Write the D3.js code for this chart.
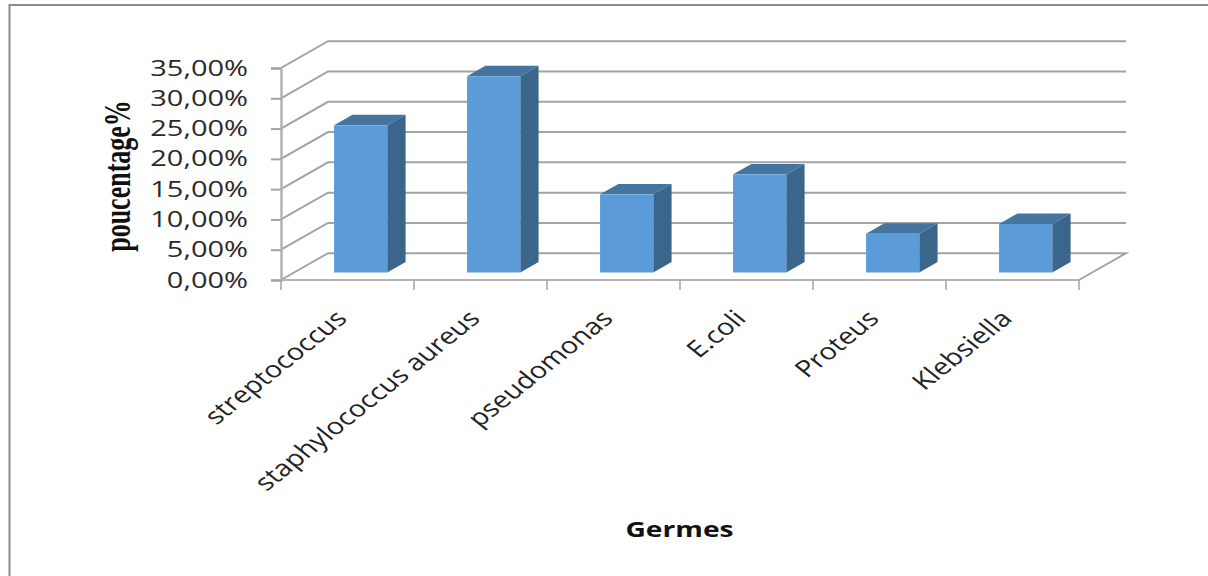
<!DOCTYPE html>
<html>
<head>
<meta charset="utf-8">
<title>Germes</title>
<script src="https://cdn.jsdelivr.net/npm/d3@7/dist/d3.min.js"></script>
<style>
  html, body { margin: 0; padding: 0; background: #fff; }
  svg { display: block; }
</style>
</head>
<body>
<svg id="chart" width="1208" height="576"></svg>
<script>
// Share of each germ, in percent
const categories = ["streptococcus", "staphylococcus aureus", "pseudomonas", "E.coli", "Proteus", "Klebsiella"];
const percentages = [24.3, 32.4, 12.9, 16.2, 6.4, 8.0];
const yTicks = [0, 5, 10, 15, 20, 25, 30, 35];
const yTickLabels = ["0,00%", "5,00%", "10,00%", "15,00%", "20,00%", "25,00%", "30,00%", "35,00%"];

const width = 1208, height = 576;
const plotLeft = 281, plotRight = 1079, floorY = 280, topY = 68;
const depthX = 47, depthY = 26.8;           // oblique offset of the back wall
const barNear = 0.28, barFar = 0.67;        // bar extent along the depth axis
const gridColor = "#a3a3a3", axisColor = "#b4b4b4";

const svg = d3.select("#chart");
const x = d3.scaleBand().domain(categories).range([plotLeft, plotRight]).paddingInner(0.6).paddingOuter(0.3);
const y = d3.scaleLinear().domain([0, 35]).range([floorY, topY]);

// Oblique projection: z = 0 is the front plane, z = 1 the back wall
const px = (xv, z) => xv + depthX * z;
const py = (v, z) => y(v) - depthY * z;

// Outer frame
svg.append("path")
  .attr("d", `M9.5,${height} V5 H${width}`)
  .attr("fill", "none").attr("stroke", "#8c8c8c").attr("stroke-width", 2);

// Back wall gridlines and the diagonals across the side wall
const grid = svg.append("g").attr("fill", "none").attr("stroke", gridColor).attr("stroke-width", 2);
grid.selectAll("path.wall").data(yTicks).join("path").attr("class", "wall")
  .attr("d", v => v === 0
    ? `M${px(plotLeft, 0)},${py(v, 0)} L${px(plotLeft, 1)},${py(v, 1)} H${px(plotRight, 1)} L${px(plotRight, 0)},${py(v, 0)}`
    : `M${px(plotLeft, 0)},${py(v, 0)} L${px(plotLeft, 1)},${py(v, 1)} H${px(plotRight, 1)}`);

// Value axis
const yAxis = d3.axisLeft(y).tickValues(yTicks).tickSize(10).tickPadding(0)
  .tickFormat((d, i) => yTickLabels[i]);
const yG = svg.append("g").attr("transform", `translate(${plotLeft},0)`).call(yAxis);
yG.select(".domain").attr("stroke", axisColor).attr("stroke-width", 2.5);
yG.selectAll(".tick line").attr("stroke", gridColor).attr("stroke-width", 2);
yG.selectAll(".tick text")
  .attr("x", 0).attr("dy", null)
  .attr("transform", `translate(${248 - plotLeft},7) scale(1.38,1)`)
  .attr("text-anchor", "end")
  .attr("font-family", "'Open Sans'").attr("font-size", 21).attr("fill", "#2a2a2a");

// Category axis with ticks on the band edges
const step = x.step();
const edges = d3.range(categories.length + 1).map(i => plotLeft + i * step);
svg.append("line").attr("x1", plotLeft).attr("x2", plotRight).attr("y1", floorY).attr("y2", floorY)
  .attr("stroke", axisColor).attr("stroke-width", 2);
svg.append("g").selectAll("line").data(edges).join("line")
  .attr("x1", d => d).attr("x2", d => d).attr("y1", floorY).attr("y2", floorY + 10)
  .attr("stroke", gridColor).attr("stroke-width", 1.5);

// Bars: side, top, then front face
const bars = svg.append("g").selectAll("g").data(categories.map((c, i) => ({ c, v: percentages[i] }))).join("g");
bars.append("path").attr("fill", "#3a668c")
  .attr("d", d => {
    const r = x(d.c) + x.bandwidth();
    return `M${px(r, barNear)},${py(0, barNear)} L${px(r, barFar)},${py(0, barFar)} L${px(r, barFar)},${py(d.v, barFar)} L${px(r, barNear)},${py(d.v, barNear)} Z`;
  });
bars.append("path").attr("fill", "#44749f")
  .attr("d", d => {
    const l = x(d.c), r = l + x.bandwidth();
    return `M${px(l, barNear)},${py(d.v, barNear)} L${px(l, barFar)},${py(d.v, barFar)} L${px(r, barFar)},${py(d.v, barFar)} L${px(r, barNear)},${py(d.v, barNear)} Z`;
  });
bars.append("rect").attr("fill", "#5b9bd7")
  .attr("x", d => px(x(d.c), barNear))
  .attr("width", x.bandwidth())
  .attr("y", d => py(d.v, barNear))
  .attr("height", d => y(0) - y(d.v));

// Slanted category labels, anchored at their end under each band
svg.append("g").selectAll("text").data(categories).join("text")
  .attr("transform", d => `translate(${x(d) + x.bandwidth() / 2 + 1},${floorY + 40}) scale(1.25,1) rotate(-45)`)
  .attr("text-anchor", "end")
  .attr("font-family", "'Open Sans'").attr("font-size", 23).attr("fill", "#222")
  .text(d => d);

// Axis titles
svg.append("text")
  .attr("transform", "translate(130,176) scale(1.42,1) rotate(-90)")
  .attr("text-anchor", "middle")
  .attr("font-family", "'Liberation Serif'").attr("font-weight", "bold").attr("font-size", 26).attr("fill", "#111")
  .text("poucentage%");
svg.append("text")
  .attr("transform", "translate(679.5,537) scale(1.28,1)")
  .attr("text-anchor", "middle")
  .attr("font-family", "'Open Sans'").attr("font-weight", "bold").attr("font-size", 22).attr("fill", "#111")
  .text("Germes");
</script>
</body>
</html>
